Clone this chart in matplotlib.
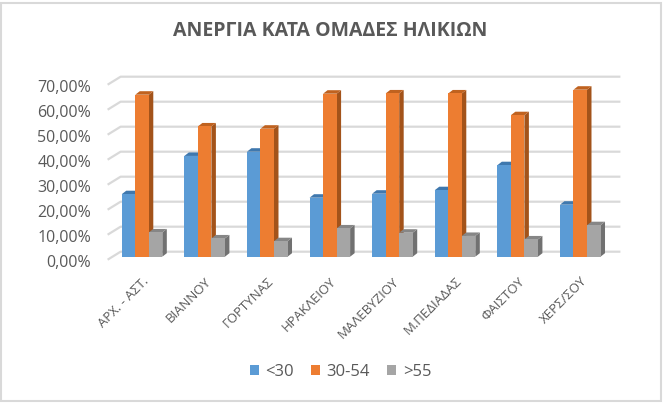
import matplotlib
matplotlib.use('Agg')
import matplotlib.pyplot as plt
from matplotlib.patches import Polygon, Patch, Rectangle
import matplotlib.transforms as mtransforms

plt.rcParams['font.family'] = ['Open Sans', 'DejaVu Sans']

regions = ['ΑΡΧ. - ΑΣΤ.', 'ΒΙΑΝΝΟΥ', 'ΓΟΡΤΥΝΑΣ', 'ΗΡΑΚΛΕΙΟΥ',
           'ΜΑΛΕΒΥΖΙΟΥ', 'Μ.ΠΕΔΙΑΔΑΣ', 'ΦΑΙΣΤΟΥ', 'ΧΕΡΣ/ΣΟΥ']
under_30 = [0.250, 0.403, 0.420, 0.236, 0.252, 0.266, 0.366, 0.208]
age_30_54 = [0.648, 0.521, 0.512, 0.652, 0.653, 0.653, 0.566, 0.668]
over_55 = [0.097, 0.073, 0.062, 0.113, 0.096, 0.083, 0.069, 0.126]
series_names = ['<30', '30-54', '>55']
yticks = [0, 0.1, 0.2, 0.3, 0.4, 0.5, 0.6, 0.7]

front = ['#5B9BD5', '#ED7D31', '#A5A5A5']
top = ['#3F78AE', '#C0621F', '#868686']
side = ['#35648F', '#A3531A', '#717171']
text_color = '#595959'
grid_color = '#D9D9D9'

W, H = 665, 403
fig = plt.figure(figsize=(W / 100, H / 100), dpi=100)
ax_l, ax_b, ax_w, ax_h = 107.6, 146.3, 500.8, 175.0
ax = fig.add_axes([ax_l / W, ax_b / H, ax_w / W, ax_h / H])
xmin, xmax = -0.55, 7.45
ymin, ymax = 0, 0.7
ax.set_xlim(xmin, xmax)
ax.set_ylim(ymin, ymax)
sx = ax_w / (xmax - xmin)   # pixels per x unit
sy = ax_h / (ymax - ymin)   # pixels per y unit

# back wall gridlines with left side-wall slant
for v in yticks:
    xs = [xmin, xmin + 13 / sx, xmax + 12 / sx]
    ys = [v - 3 / sy, v + 5 / sy, v + 5 / sy]
    ax.plot(xs, ys, color=grid_color, lw=1.6, clip_on=False, zorder=1,
            solid_capstyle='butt')

bw = 0.216
ddx, ddy = 4.5 / sx, 3.5 / sy
for i in range(len(regions)):
    vals = [under_30[i], age_30_54[i], over_55[i]]
    for k, v in enumerate(vals):
        x0 = i + (k - 1) * bw - bw / 2
        x1 = x0 + bw
        z = 3 + i * 3 + k
        ax.add_patch(Polygon([(x1, 0), (x1 + ddx, ddy), (x1 + ddx, v + ddy), (x1, v)],
                             closed=True, fc=side[k], ec='none', zorder=z, clip_on=False))
        ax.add_patch(Polygon([(x0, v), (x1, v), (x1 + ddx, v + ddy), (x0 + ddx, v + ddy)],
                             closed=True, fc=top[k], ec='none', zorder=z, clip_on=False))
        ax.add_patch(Rectangle((x0, 0), bw, v, fc=front[k], ec='none', zorder=z,
                               clip_on=False))

for s in ax.spines.values():
    s.set_visible(False)
ax.set_yticks(yticks)
ax.set_yticklabels([('%.2f%%' % (t * 100)).replace('.', ',') for t in yticks],
                   fontsize=11.5, color=text_color)
ax.tick_params(axis='y', length=0, pad=12)
shift = mtransforms.ScaledTranslation(0, -4 / 100, fig.dpi_scale_trans)
for lab in ax.get_yticklabels():
    lab.set_transform(lab.get_transform() + shift)

ax.set_xticks(range(len(regions)))
ax.set_xticklabels(regions, rotation=45, ha='right', rotation_mode='anchor',
                   fontsize=9.5, color=text_color)
ax.tick_params(axis='x', length=0, pad=13)

fig.text(0.497, 0.922, 'ΑΝΕΡΓΙΑ ΚΑΤΑ ΟΜΑΔΕΣ ΗΛΙΚΙΩΝ', ha='center', va='center',
         fontsize=14, fontweight='bold', color=text_color)

handles = [Patch(fc=front[k], ec='none', label=series_names[k]) for k in range(3)]
fig.legend(handles=handles, loc='center', bbox_to_anchor=(0.512, 1 - 372 / H), ncol=3,
           frameon=False, fontsize=12, handlelength=0.55, handleheight=0.55,
           handletextpad=0.4, columnspacing=1.0, labelcolor=text_color)

fig.patches.append(Rectangle((1 / W, 2 / H), 660 / W, 398 / H, transform=fig.transFigure,
                             fill=False, ec=grid_color, lw=1.5))

fig.savefig('out.png', dpi=100)
